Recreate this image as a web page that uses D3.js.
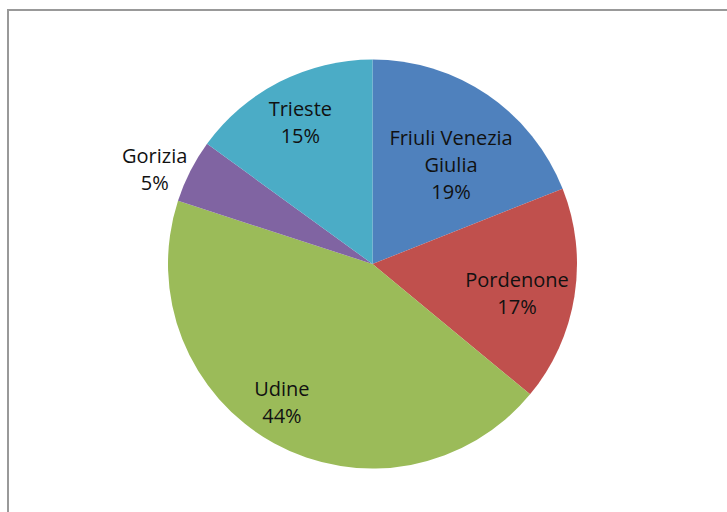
<!DOCTYPE html>
<html>
<head>
<meta charset="utf-8">
<script src="https://cdn.jsdelivr.net/npm/d3@7"></script>
<style>
  html, body { margin: 0; padding: 0; background: #ffffff; }
  svg { display: block; }
  text { font-family: "Open Sans", "DejaVu Sans", sans-serif; font-size: 20px; fill: #111111; }
</style>
</head>
<body>
<svg id="chart" width="727" height="512"></svg>
<script>
// Province shares of the region
const categories = ["Friuli Venezia Giulia", "Pordenone", "Udine", "Gorizia", "Trieste"];
const values = [19, 17, 44, 5, 15];
const colors = ["#4F81BD", "#C0504D", "#9BBB59", "#8064A2", "#4BACC6"];

const W = 727, H = 512;
const cx = 372.5, cy = 264, R = 204.5;
const lineH = 27;
const wrapWidth = 140;

// small angular tweaks (degrees) so labels sit clear of the slice edges
const labelTurn = { "Friuli Venezia Giulia": 4, "Pordenone": 2.5, "Udine": 4.5, "Gorizia": -3.5, "Trieste": 0 };

const svg = d3.select("#chart");

// chart area frame (runs off the right and bottom of the view)
svg.append("rect")
  .attr("x", 8).attr("y", 10)
  .attr("width", W + 20).attr("height", H + 20)
  .attr("fill", "none")
  .attr("stroke", "#999999")
  .attr("stroke-width", 2);

const color = d3.scaleOrdinal().domain(categories).range(colors);
const total = d3.sum(values);
const data = categories.map((c, i) => ({ name: c, value: values[i] }));

const pie = d3.pie().value(d => d.value).sort(null);
const arc = d3.arc().innerRadius(0).outerRadius(R);
const arcs = pie(data);

const g = svg.append("g").attr("transform", `translate(${cx},${cy})`);

g.selectAll("path.slice")
  .data(arcs)
  .join("path")
  .attr("class", "slice")
  .attr("d", arc)
  .attr("fill", d => color(d.data.name));

// measure text widths with a hidden text node
const probe = svg.append("text").attr("visibility", "hidden");
function textWidth(s) { probe.text(s); return probe.node().getComputedTextLength(); }

function wrap(label) {
  const words = label.split(" ");
  const lines = [];
  let cur = "";
  words.forEach(w => {
    const t = cur ? cur + " " + w : w;
    if (cur && textWidth(t) > wrapWidth) { lines.push(cur); cur = w; }
    else cur = t;
  });
  if (cur) lines.push(cur);
  return lines;
}

// line boxes of a label centred at (x, y)
function boxes(lines, widths, x, y) {
  const top = y - lines.length * lineH / 2;
  return lines.map((l, i) => ({
    x0: x - widths[i] / 2, x1: x + widths[i] / 2,
    y0: top + i * lineH, y1: top + (i + 1) * lineH
  }));
}
function farDist(bs) {
  return d3.max(bs, b => d3.max([[b.x0, b.y0], [b.x1, b.y0], [b.x0, b.y1], [b.x1, b.y1]], p => Math.hypot(p[0], p[1])));
}
function nearDist(bs) {
  return d3.min(bs, b => {
    const px = Math.max(b.x0, Math.min(0, b.x1));
    const py = Math.max(b.y0, Math.min(0, b.y1));
    return Math.hypot(px, py);
  });
}

arcs.forEach(a => {
  const pct = Math.round(a.data.value / total * 100) + "%";
  const lines = wrap(a.data.name).concat([pct]);
  const widths = lines.map(textWidth);
  const mid = (a.startAngle + a.endAngle) / 2 + (labelTurn[a.data.name] || 0) * Math.PI / 180;
  const ux = Math.sin(mid), uy = -Math.cos(mid);
  const outside = a.data.value / total < 0.08;
  let d;
  if (outside) {
    d = R;
    while (nearDist(boxes(lines, widths, ux * d, uy * d)) < R + 3) d += 0.5;
  } else {
    d = 0;
    while (farDist(boxes(lines, widths, ux * (d + 0.5), uy * (d + 0.5))) <= R - 6) d += 0.5;
  }
  const x = ux * d, y = uy * d;
  const top = y - lines.length * lineH / 2;
  const t = g.append("text").attr("text-anchor", "middle");
  lines.forEach((l, i) => {
    t.append("tspan")
      .attr("x", x)
      .attr("y", top + i * lineH + lineH / 2 + 7.5)
      .text(l);
  });
});

probe.remove();
</script>
</body>
</html>
